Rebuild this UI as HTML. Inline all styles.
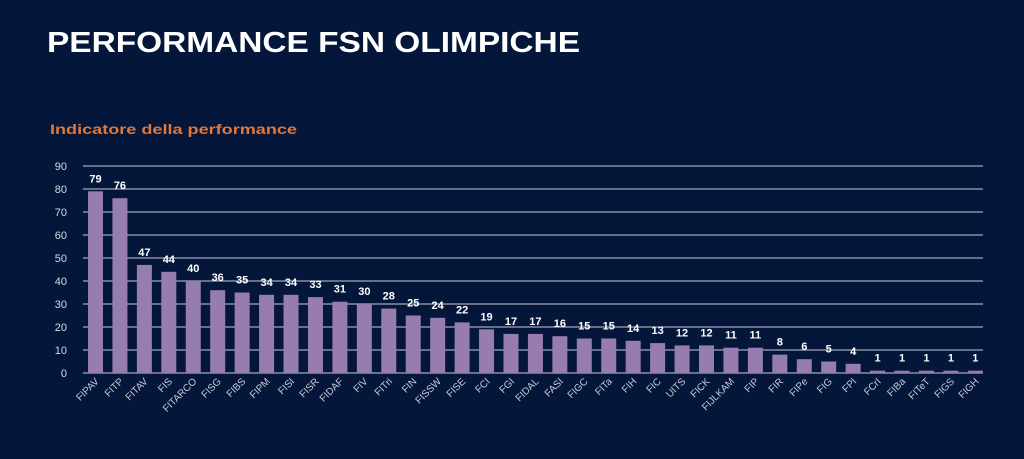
<!DOCTYPE html>
<html><head><meta charset="utf-8"><style>
html,body{margin:0;padding:0;background:#04163a;}
svg{display:block;font-family:"Liberation Sans",sans-serif;}
</style></head><body>
<svg width="1024" height="459" viewBox="0 0 1024 459">
<rect width="1024" height="459" fill="#04163a"/>
<text x="47" y="52" fill="#fff" font-size="29" font-weight="bold" textLength="533" lengthAdjust="spacingAndGlyphs">PERFORMANCE FSN OLIMPICHE</text>
<text x="50" y="134" fill="#e0783a" font-size="14" font-weight="bold" textLength="247" lengthAdjust="spacingAndGlyphs">Indicatore della performance</text>
<g id="g"></g>
</svg>
<script>
const names=["FIPAV","FITP","FITAV","FIS","FITARCO","FISG","FIBS","FIPM","FISI","FISR","FIDAF","FIV","FITri","FIN","FISSW","FISE","FCI","FGI","FIDAL","FASI","FIGC","FITa","FIH","FIC","UITS","FICK","FIJLKAM","FIP","FIR","FIPe","FIG","FPI","FCrI","FIBa","FITeT","FIGS","FIGH"];
const vals=[79,76,47,44,40,36,35,34,34,33,31,30,28,25,24,22,19,17,17,16,15,15,14,13,12,12,11,11,8,6,5,4,1,1,1,1,1];
let s="";const y0=373,k=2.3;
for(let i=0;i<=9;i++){const y=y0-i*23;s+=`<line x1="83" x2="983" y1="${y}" y2="${y}" stroke="#c9ccd8" stroke-width="1"/><text x="67" y="${y+4}" fill="#d8dae2" font-size="11" text-anchor="end">${i*10}</text>`;}
vals.forEach((v,i)=>{const x=88+i*24.44,h=v*k,cx=x+7.5;
s+=`<rect x="${x}" y="${y0-h}" width="15" height="${h}" fill="#977daf"/>`;
s+=`<text x="${cx}" y="${y0-h-9}" fill="#fff" font-size="11" font-weight="bold" text-anchor="middle">${v}</text>`;
s+=`<text transform="translate(${cx+4},${y0+9}) rotate(-45)" fill="#c9ccd8" font-size="10" text-anchor="end">${names[i]}</text>`;});
document.getElementById("g").innerHTML=s;
</script>
</body></html>
